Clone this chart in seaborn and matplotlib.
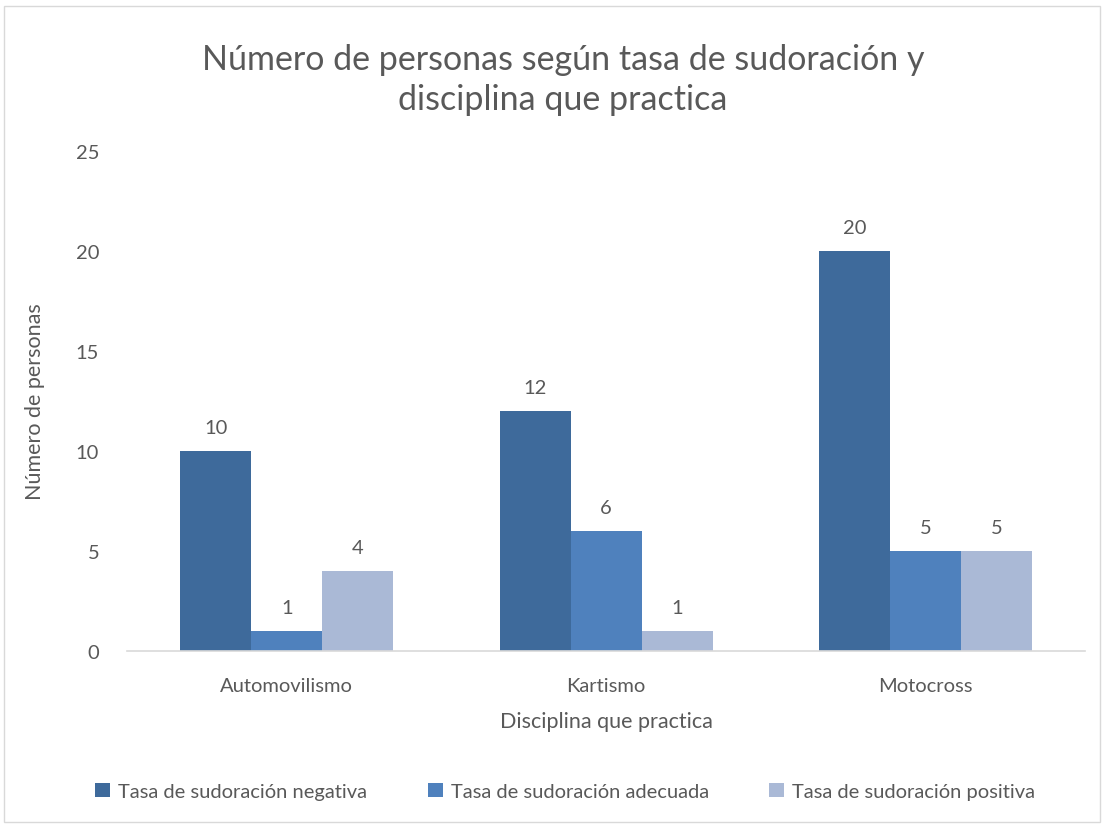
import seaborn as sns
import matplotlib.pyplot as plt
import pandas as pd
from matplotlib.patches import Rectangle

disciplinas = ['Automovilismo', 'Kartismo', 'Motocross']
series = ['Tasa de sudoración negativa', 'Tasa de sudoración adecuada',
          'Tasa de sudoración positiva']
negativa = [10, 12, 20]
adecuada = [1, 6, 5]
positiva = [4, 1, 5]
colores = ['#3E6A9B', '#4F81BD', '#AAB9D6']

filas = []
for nombre, valores in zip(series, [negativa, adecuada, positiva]):
    for d, v in zip(disciplinas, valores):
        filas.append({'Disciplina': d, 'Serie': nombre, 'Personas': v})
df = pd.DataFrame(filas)

sns.set_style('white')
plt.rcParams['font.family'] = ['Lato', 'DejaVu Sans']
gris = '#595959'

fig = plt.figure(figsize=(11.04, 8.28), dpi=100)
ax = fig.add_axes([0.115, 0.2126, 0.868, 0.6038])

sns.barplot(data=df, x='Disciplina', y='Personas', hue='Serie',
            palette=colores, width=0.667, saturation=1, linewidth=0,
            ax=ax, legend=True)

for cont in ax.containers:
    ax.bar_label(cont, padding=11, fontsize=14.5, color=gris)

ax.set_ylim(0, 25)
ax.set_yticks(range(0, 26, 5))
ax.tick_params(axis='both', length=0, labelsize=14.5, labelcolor=gris)
ax.tick_params(axis='x', pad=19)
ax.tick_params(axis='y', pad=20)
for lado in ['top', 'right', 'left']:
    ax.spines[lado].set_visible(False)
ax.spines['bottom'].set_color('#D9D9D9')
ax.spines['bottom'].set_linewidth(1.2)

ax.set_xlabel('Disciplina que practica', fontsize=15.5, color=gris, labelpad=12)
ax.set_ylabel('Número de personas', fontsize=15.5, color=gris, labelpad=22)

fig.text(0.51, 0.903, 'Número de personas según tasa de sudoración y\ndisciplina que practica',
         ha='center', va='center', fontsize=24.5, color=gris, linespacing=1.3)

handles, labels = ax.get_legend_handles_labels()
ax.legend_.remove()
fig.legend(handles, labels, loc='center', bbox_to_anchor=(0.512, 0.043), ncol=3,
           frameon=False, fontsize=14.5, labelcolor=gris, handlelength=0.75,
           handleheight=0.75, handletextpad=0.4, columnspacing=3.0)

fig.patches.append(Rectangle((0.004, 0.006), 0.992, 0.986, transform=fig.transFigure,
                             fill=False, edgecolor='#D9D9D9', linewidth=1))

fig.savefig('out.png', dpi=100)
